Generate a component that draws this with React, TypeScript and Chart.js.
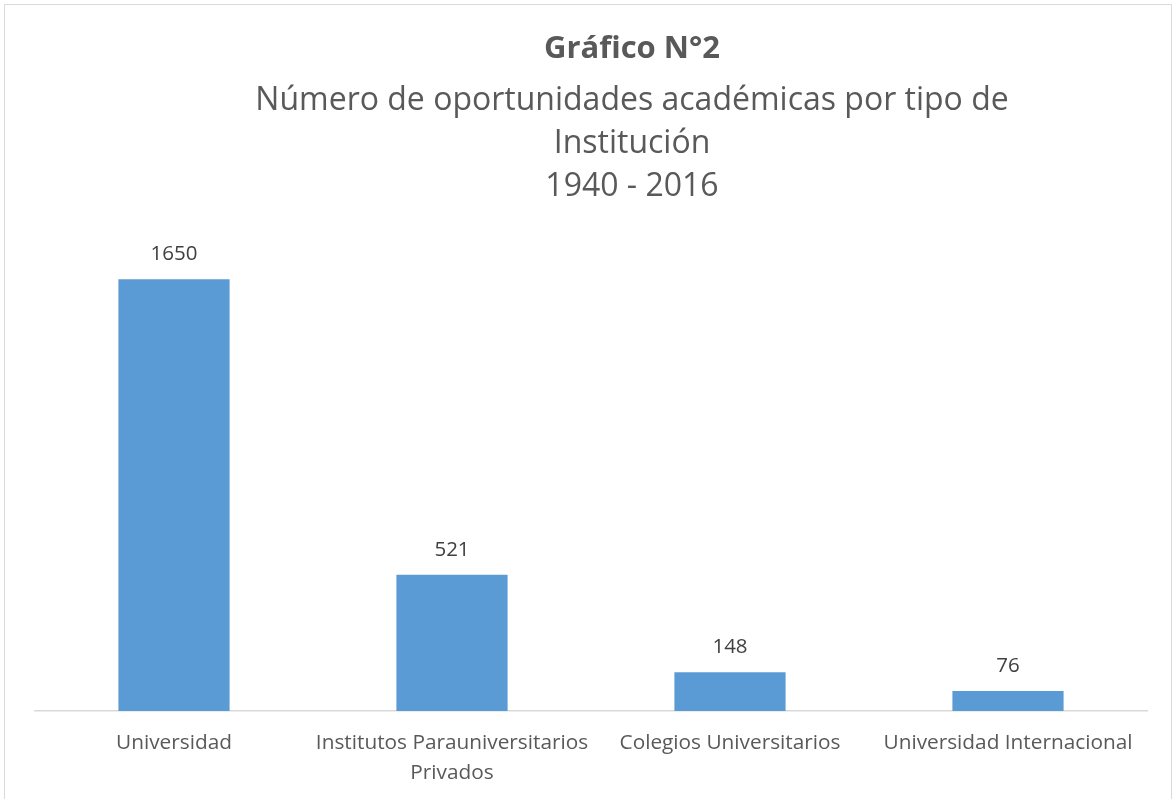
import React, { useEffect, useRef } from "react";
import { Chart, registerables } from "chart.js";

Chart.register(...registerables);

const categories: (string | string[])[] = [
  "Universidad",
  ["Institutos Parauniversitarios", "Privados"],
  "Colegios Universitarios",
  "Universidad Internacional",
];
const values: number[] = [1650, 521, 148, 76];
const titleMain = "Gráfico N°2";
const titleLines: string[] = [
  "Número de oportunidades académicas por tipo de",
  "Institución",
  "1940 - 2016",
];

const FONT = "'Open Sans', 'DejaVu Sans', sans-serif";

const titlePlugin = {
  id: "customTitle",
  afterDraw(chart: any) {
    const ctx = chart.ctx;
    ctx.save();
    ctx.fillStyle = "#595959";
    ctx.textAlign = "center";
    ctx.textBaseline = "middle";
    const cx = 632;
    ctx.font = `bold 31px ${FONT}`;
    ctx.fillText(titleMain, cx, 49);
    ctx.font = `32px ${FONT}`;
    titleLines.forEach((t, i) => ctx.fillText(t, cx, 101 + i * 43));
    ctx.restore();
  },
};

const dataLabelPlugin = {
  id: "dataLabels",
  afterDatasetsDraw(chart: any) {
    const ctx = chart.ctx;
    const meta = chart.getDatasetMeta(0);
    ctx.save();
    ctx.fillStyle = "#404040";
    ctx.font = `20.5px ${FONT}`;
    ctx.textAlign = "center";
    ctx.textBaseline = "middle";
    meta.data.forEach((bar: any, i: number) => {
      ctx.fillText(String(values[i]), bar.x, bar.y - 25);
    });
    ctx.restore();
  },
};

export default function App() {
  const ref = useRef<HTMLCanvasElement>(null);
  useEffect(() => {
    if (!ref.current) return;
    const chart = new Chart(ref.current, {
      type: "bar",
      data: {
        labels: categories,
        datasets: [
          {
            data: values,
            backgroundColor: "#5B9BD5",
            barPercentage: 0.4,
            categoryPercentage: 1,
          },
        ],
      },
      options: {
        responsive: false,
        animation: false,
        layout: { padding: { top: 240, left: 35, right: 28, bottom: 0 } },
        plugins: {
          legend: { display: false },
          title: { display: false },
          tooltip: { enabled: false },
        },
        scales: {
          x: {
            grid: { display: false, drawTicks: false },
            border: { display: true, color: "#d9d9d9", width: 1.5 },
            ticks: {
              color: "#595959",
              font: { family: FONT, size: 20.8, lineHeight: 1.4 },
              padding: 18,
              autoSkip: false,
              maxRotation: 0,
            },
            afterFit(scale: any) {
              scale.height = 88;
            },
          },
          y: {
            display: false,
            min: 0,
            max: 1800,
          },
        },
      },
      plugins: [titlePlugin, dataLabelPlugin],
    });
    return () => chart.destroy();
  }, []);
  return (
    <div style={{ position: "absolute", left: 0, top: 0, width: 1175, height: 799, background: "#fff", overflow: "hidden" }}>
      <canvas ref={ref} width={1175} height={799} style={{ display: "block" }} />
      <div
        style={{
          position: "absolute",
          left: 4,
          top: 4,
          width: 1168,
          height: 810,
          border: "1.5px solid #d9d9d9",
          boxSizing: "border-box",
          pointerEvents: "none",
        }}
      />
    </div>
  );
}
